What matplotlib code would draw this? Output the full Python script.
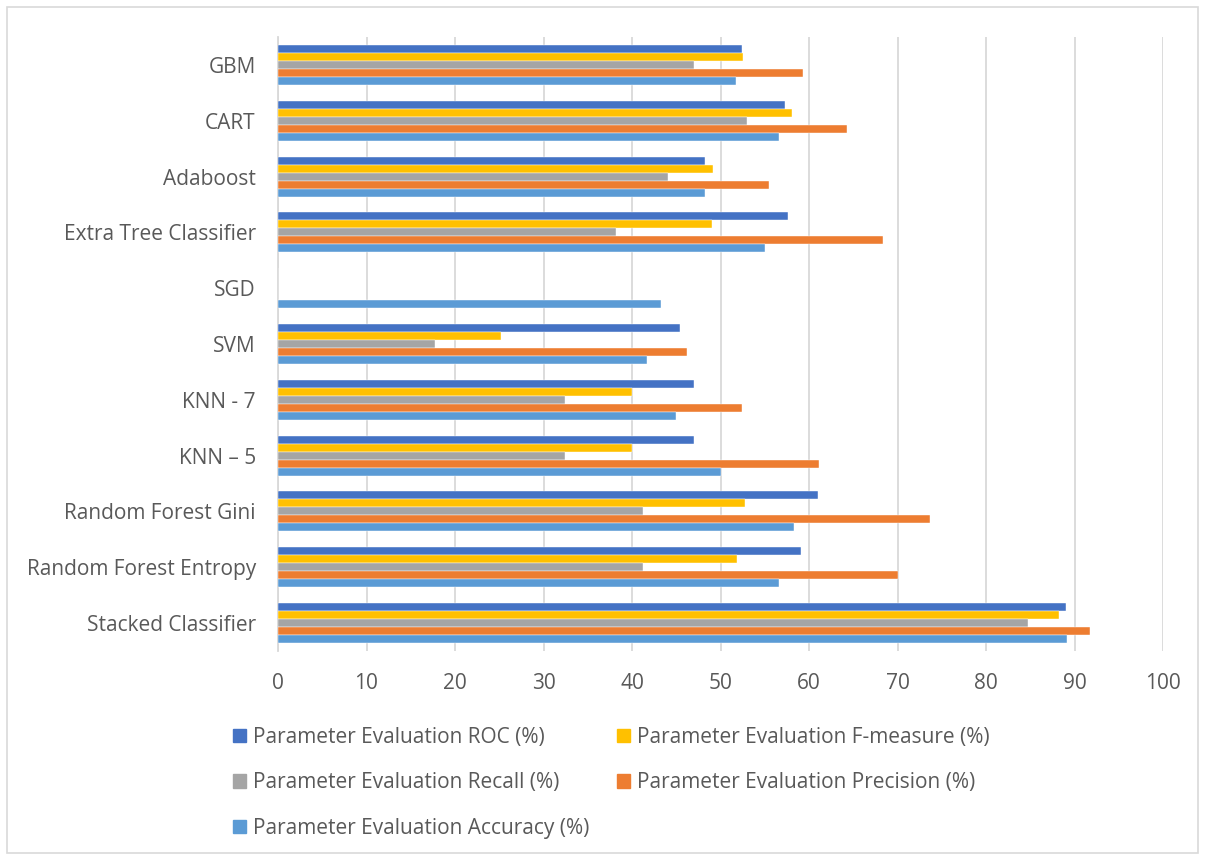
import matplotlib
matplotlib.use("Agg")
import matplotlib.pyplot as plt
from matplotlib.patches import Rectangle, Patch
import numpy as np

categories = ["Stacked Classifier", "Random Forest Entropy", "Random Forest Gini",
              "KNN \u2013 5", "KNN - 7", "SVM", "SGD", "Extra Tree Classifier",
              "Adaboost", "CART", "GBM"]
roc       = [89.0, 59.1, 61.0, 47.0, 47.0, 45.4, 0.0, 57.6, 48.2, 57.3, 52.4]
fmeasure  = [88.2, 51.9, 52.8, 40.0, 40.0, 25.2, 0.0, 49.0, 49.2, 58.1, 52.5]
recall    = [84.8, 41.2, 41.2, 32.4, 32.4, 17.7, 0.0, 38.2, 44.1, 53.0, 47.0]
precision = [91.8, 70.0, 73.7, 61.1, 52.4, 46.2, 0.0, 68.4, 55.5, 64.3, 59.3]
accuracy  = [89.2, 56.6, 58.3, 50.0, 45.0, 41.7, 43.3, 55.0, 48.3, 56.6, 51.7]

series_names = ["Parameter Evaluation ROC (%)", "Parameter Evaluation F-measure (%)",
                "Parameter Evaluation Recall (%)", "Parameter Evaluation Precision (%)",
                "Parameter Evaluation Accuracy (%)"]
series_vals = [roc, fmeasure, recall, precision, accuracy]
colors = ["#4472C4", "#FFC000", "#A5A5A5", "#ED7D31", "#5B9BD5"]
xticks = [0, 10, 20, 30, 40, 50, 60, 70, 80, 90, 100]

plt.rcParams['font.family'] = ['Open Sans', 'DejaVu Sans']

fig = plt.figure(figsize=(12.05, 8.55), dpi=100)
ax = fig.add_axes([278/1205, 1 - 651/855, (1163-278)/1205, (651-37)/855])

y = np.arange(len(categories))
bh = 0.143
offsets = [2, 1, 0, -1, -2]
for vals, name, c, off in zip(series_vals, series_names, colors, offsets):
    ax.barh(y + off*bh, vals, height=bh, color=c, label=name, zorder=3,
            edgecolor='white', linewidth=0.3)

ax.set_xlim(0, 100)
ax.set_ylim(-0.5, len(categories) - 0.5)
ax.set_xticks(xticks)
ax.set_xticklabels([str(t) for t in xticks])
ax.set_yticks(y)
ax.set_yticklabels(categories)
ax.tick_params(axis='both', length=0, labelsize=15, colors='#595959')
ax.tick_params(axis='x', pad=16)
ax.tick_params(axis='y', pad=16)
ax.grid(axis='x', color='#D9D9D9', linewidth=1.3, zorder=0)
for s in ['top', 'right', 'bottom']:
    ax.spines[s].set_visible(False)
ax.spines['left'].set_color('#D9D9D9')
ax.spines['left'].set_linewidth(1.3)

handles = [Patch(color=c) for c in colors]
order = [0, 2, 4, 1, 3]
leg = fig.legend([handles[i] for i in order], [series_names[i] for i in order],
                 ncol=2, loc='upper left', bbox_to_anchor=(233/1205, 1 - 727/855),
                 frameon=False, fontsize=15, handlelength=0.62, handleheight=0.62,
                 handletextpad=0.33, columnspacing=1.34, labelspacing=1.17,
                 borderaxespad=0, borderpad=0)
for t in leg.get_texts():
    t.set_color('#595959')

fig.patches.append(Rectangle((7/1205, 0.002), 1 - 14/1205, 1 - 9/855, transform=fig.transFigure,
                             fill=False, edgecolor='#D9D9D9', linewidth=1.2))

fig.savefig("out.png", dpi=100, facecolor='white')
